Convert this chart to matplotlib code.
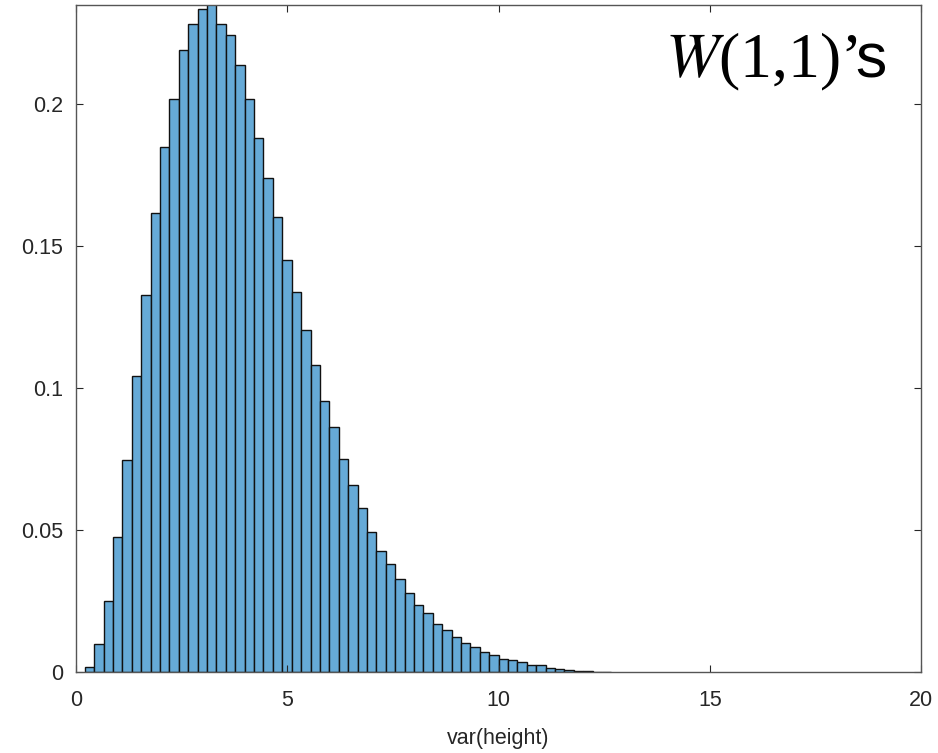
import matplotlib
matplotlib.use("Agg")
import matplotlib.pyplot as plt
import numpy as np

# histogram of var(height), pdf-normalised
bin_start = 0.21
bin_width = 0.2225
heights = [
    0.0020, 0.0099, 0.0253, 0.0477, 0.0747, 0.1044, 0.1328, 0.1618,
    0.1850, 0.2020, 0.2191, 0.2283, 0.2334, 0.2360, 0.2283, 0.2244,
    0.2137, 0.2020, 0.1880, 0.1742, 0.1603, 0.1452, 0.1338, 0.1206,
    0.1082, 0.0956, 0.0863, 0.0753, 0.0659, 0.0579, 0.0493, 0.0428,
    0.0380, 0.0329, 0.0281, 0.0237, 0.0208, 0.0170, 0.0150, 0.0123,
    0.0104, 0.0089, 0.0071, 0.0062, 0.0048, 0.0043, 0.0036, 0.0026,
    0.0025, 0.0017, 0.0011, 0.0010, 0.0006, 0.0004, 0.0003, 0.0002,
]
xticks = [0, 5, 10, 15, 20]
yticks = [0, 0.05, 0.1, 0.15, 0.2]
ytick_labels = ["0", "0.05", "0.1", "0.15", "0.2"]
x_label = "var(height)"

lefts = bin_start + bin_width * np.arange(len(heights))

fig = plt.figure(figsize=(9.38, 7.53), dpi=100)
ax = fig.add_axes([0.081, 0.107, 0.901, 0.8866])

ax.bar(lefts, heights, width=bin_width, align="edge",
       color="#66aad7", edgecolor="#111111", linewidth=1.0)

ax.set_xlim(0, 20)
ax.set_ylim(0, 0.235)
ax.set_xticks(xticks)
ax.set_xticklabels([str(t) for t in xticks])
ax.set_yticks(yticks)
ax.set_yticklabels(ytick_labels)

for lab in ax.get_xticklabels() + ax.get_yticklabels():
    lab.set_fontfamily("Liberation Sans")
    lab.set_fontsize(15.5)
    lab.set_color("#262626")

ax.tick_params(direction="in", length=5, width=0.8, color="#262626",
               top=True, right=True)
ax.tick_params(axis="x", pad=13)
ax.tick_params(axis="y", pad=9)
for s in ax.spines.values():
    s.set_color("#555555")
    s.set_linewidth(1.0)

ax.set_xlabel(x_label, fontfamily="Liberation Sans", fontsize=15.5,
              color="#262626", labelpad=12)

# annotation in the corner
plt.rcParams["mathtext.fontset"] = "stix"
t1 = fig.text(665 / 938, 1 - 77 / 753, r"$\mathit{W}$(1,1)’",
              fontfamily="Liberation Serif", fontsize=46,
              ha="left", va="baseline")
fig.canvas.draw()
bb = t1.get_window_extent()
fig.text(bb.x1 / fig.bbox.width - 0.003, 1 - 77 / 753, "s",
         fontfamily="Liberation Sans", fontsize=45,
         ha="left", va="baseline")

fig.savefig("out.png", dpi=100)
